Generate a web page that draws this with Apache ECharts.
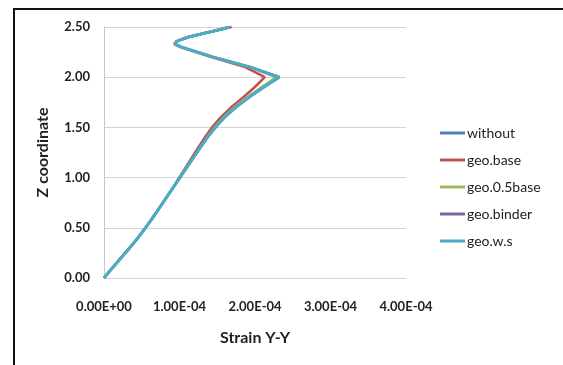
<!DOCTYPE html>
<html>
<head>
<meta charset="utf-8">
<script src="https://cdn.jsdelivr.net/npm/echarts@6/dist/echarts.min.js"></script>
<style>
  html, body { margin: 0; padding: 0; background: #fff; }
  #chart { width: 563px; height: 365px; }
</style>
</head>
<body>
<div id="chart"></div>
<script>
// Z coordinate of each sampled node
const zCoord = [0, 0.1, 0.2, 0.3, 0.4, 0.5, 0.6, 0.7, 0.8, 0.9, 1.0, 1.1, 1.2, 1.3, 1.4,
                1.5, 1.6, 1.7, 1.8, 1.9, 2.0, 2.1, 2.2, 2.3, 2.33, 2.36, 2.4, 2.45, 2.5];

// Strain Y-Y (x 1e-4) for each case
const without = [0, 0.11, 0.225, 0.34, 0.45, 0.55, 0.645, 0.735, 0.825, 0.915, 1.005, 1.095, 1.185, 1.275, 1.37,
                 1.475, 1.595, 1.745, 1.92, 2.115, 2.32, 1.94, 1.45, 1.03, 0.94, 0.97, 1.12, 1.40, 1.67];
const geoBase = [0, 0.11, 0.225, 0.34, 0.45, 0.55, 0.645, 0.735, 0.825, 0.915, 0.995, 1.08, 1.165, 1.25, 1.335,
                 1.43, 1.545, 1.685, 1.845, 1.995, 2.13, 1.87, 1.42, 1.01, 0.93, 0.96, 1.11, 1.40, 1.69];
const geoHalfBase = [0, 0.11, 0.225, 0.34, 0.45, 0.55, 0.645, 0.735, 0.825, 0.915, 1.005, 1.095, 1.185, 1.275, 1.365,
                     1.465, 1.58, 1.725, 1.895, 2.085, 2.28, 1.92, 1.44, 1.02, 0.94, 0.97, 1.12, 1.40, 1.67];
const geoBinder = [0, 0.11, 0.225, 0.34, 0.45, 0.55, 0.645, 0.735, 0.825, 0.915, 1.005, 1.095, 1.185, 1.275, 1.37,
                   1.475, 1.595, 1.745, 1.92, 2.115, 2.32, 1.94, 1.45, 1.03, 0.94, 0.97, 1.12, 1.40, 1.67];
const geoWs = [0, 0.11, 0.225, 0.34, 0.45, 0.55, 0.645, 0.735, 0.825, 0.915, 1.005, 1.095, 1.185, 1.275, 1.37,
               1.475, 1.595, 1.745, 1.92, 2.115, 2.32, 1.94, 1.45, 1.03, 0.94, 0.97, 1.12, 1.40, 1.67];

const seriesNames = ['without', 'geo.base', 'geo.0.5base', 'geo.binder', 'geo.w.s'];
const seriesValues = [without, geoBase, geoHalfBase, geoBinder, geoWs];
const seriesColors = ['#4F81BD', '#C0504D', '#9BBB59', '#8064A2', '#4BACC6'];
const seriesWidths = [2.5, 2.5, 2.5, 2.5, 3];

const xTicks = { min: 0, max: 4e-4, step: 1e-4 };
const yTicks = { min: 0, max: 2.5, step: 0.5 };

const FONT = 'Lato, "Open Sans", sans-serif';

// Excel-style scientific label, e.g. 1.00E-04
function sci(v) {
  if (v === 0) return '0.00E+00';
  const e = Math.floor(Math.log10(Math.abs(v)) + 1e-9);
  const m = v / Math.pow(10, e);
  const sign = e < 0 ? '-' : '+';
  const ea = String(Math.abs(e)).padStart(2, '0');
  return m.toFixed(2) + 'E' + sign + ea;
}

const chart = echarts.init(document.getElementById('chart'), null, { renderer: 'canvas' });

chart.setOption({
  animation: false,
  backgroundColor: '#fff',
  graphic: [{
    type: 'rect',
    shape: { x: 14, y: 9, width: 600, height: 400 },
    style: { fill: 'none', stroke: '#111', lineWidth: 2 },
    silent: true
  }],
  grid: { left: 104, right: 157, top: 27, bottom: 87 },
  legend: {
    orient: 'vertical',
    left: 440,
    top: 125,
    padding: 0,
    itemWidth: 25,
    itemHeight: 3,
    itemGap: 11,
    icon: 'rect',
    textStyle: { fontFamily: FONT, fontSize: 14, color: '#222', lineHeight: 16, padding: [0, 0, 0, -3] },
    data: seriesNames
  },
  xAxis: {
    type: 'value',
    min: xTicks.min, max: xTicks.max, interval: xTicks.step,
    name: 'Strain Y-Y',
    nameLocation: 'middle',
    nameGap: 52,
    nameTextStyle: { fontFamily: FONT, fontSize: 16, fontWeight: 'bold', color: '#222' },
    axisLine: { show: false },
    axisTick: { show: false },
    splitLine: { show: false },
    axisLabel: {
      margin: 22,
      fontFamily: FONT, fontSize: 13, fontWeight: 'bold', color: '#222',
      formatter: sci
    }
  },
  yAxis: {
    type: 'value',
    min: yTicks.min, max: yTicks.max, interval: yTicks.step,
    name: 'Z coordinate',
    nameLocation: 'middle',
    nameGap: 53,
    nameRotate: 90,
    nameTextStyle: { fontFamily: FONT, fontSize: 16, fontWeight: 'bold', color: '#222' },
    axisLine: { show: true, lineStyle: { color: '#C8C8C8', width: 1 } },
    axisTick: { show: false },
    splitLine: { show: true, lineStyle: { color: '#D4D4D4', width: 1 } },
    axisLabel: {
      margin: 14,
      fontFamily: FONT, fontSize: 13, fontWeight: 'bold', color: '#222',
      formatter: v => v.toFixed(2)
    }
  },
  series: seriesNames.map((name, i) => ({
    name,
    type: 'line',
    showSymbol: false,
    symbol: 'none',
    color: seriesColors[i],
    lineStyle: { width: seriesWidths[i], color: seriesColors[i] },
    z: 2 + i,
    data: seriesValues[i].map((x, k) => [x * 1e-4, zCoord[k]])
  }))
});
</script>
</body>
</html>
